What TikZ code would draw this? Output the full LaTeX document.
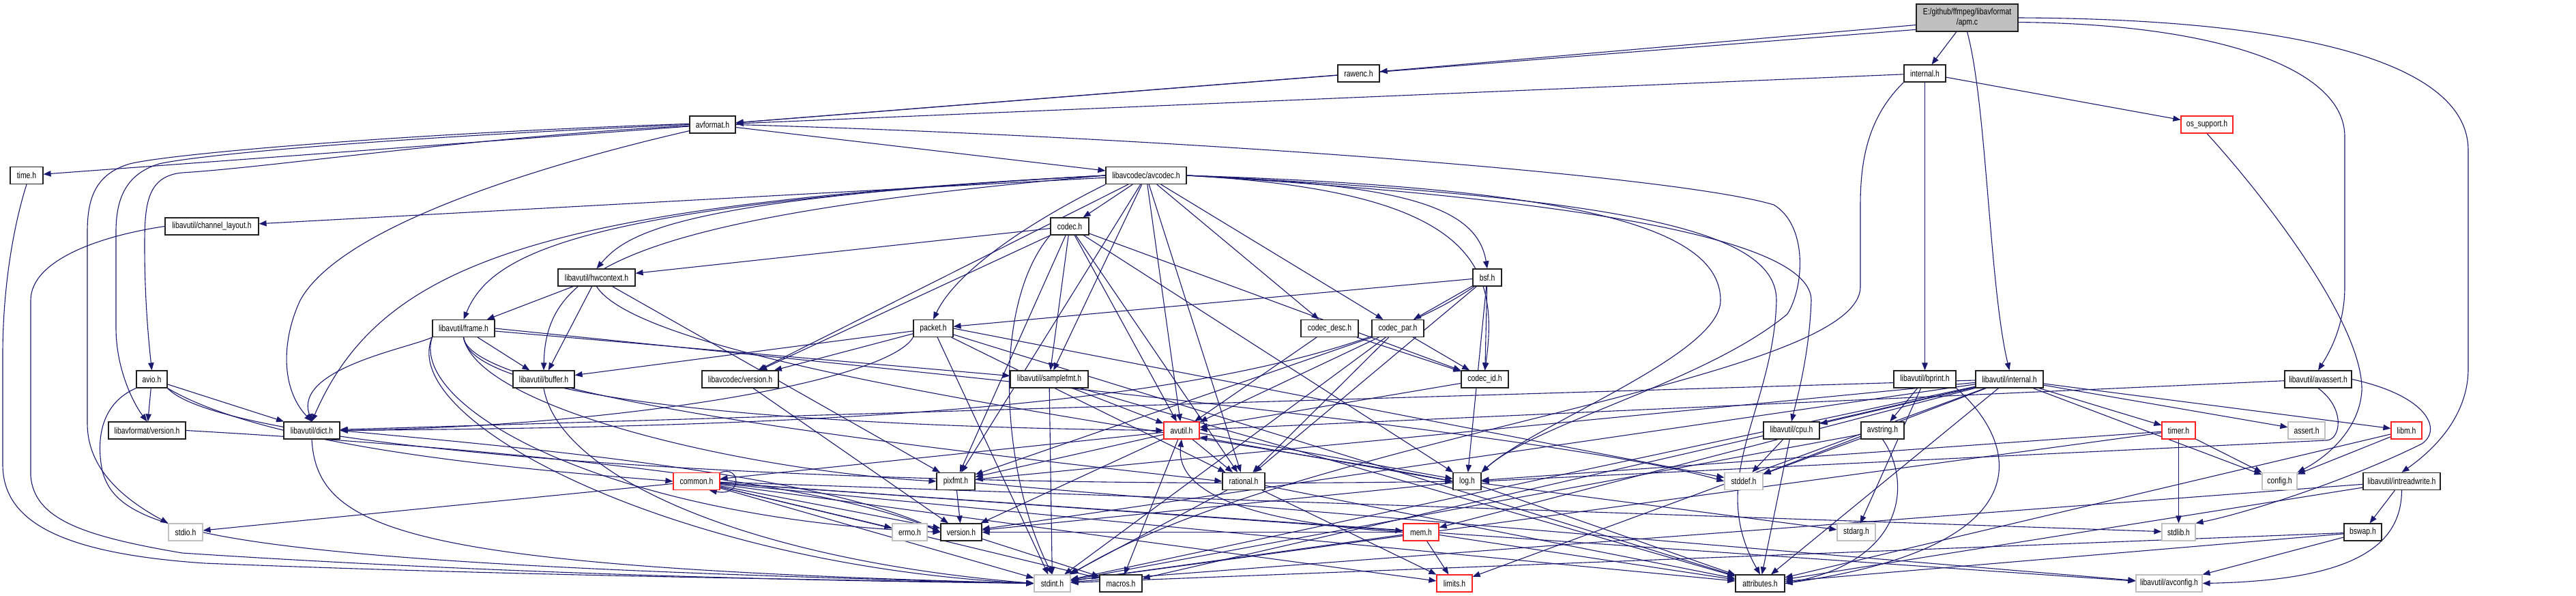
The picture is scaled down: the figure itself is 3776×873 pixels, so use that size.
\documentclass[tikz,border=0pt]{standalone}
\usepackage{fontspec}
\setmainfont{Liberation Sans}[FakeStretch=0.8]
\usetikzlibrary{arrows.meta}
\pgfdeclarelayer{bottom}
\pgfdeclarelayer{bg}
\pgfsetlayers{bottom,bg,main}
\definecolor{edgec}{HTML}{191970}
\definecolor{redc}{HTML}{FF2020}
\definecolor{grayc}{HTML}{BFBFBF}
\definecolor{rootc}{HTML}{BFBFBF}
\definecolor{borderc}{HTML}{202020}
\newcommand{\dxfont}{\fontsize{6.5pt}{7.5pt}\selectfont}
\tikzset{
 nb/.style={draw=borderc, fill=white, line width=0.6pt, minimum height=12.5pt, inner sep=0pt, font=\dxfont},
 rd/.style={nb, draw=redc},
 gr/.style={nb, draw=grayc},
 e/.style={draw=edgec, line width=0.55pt, -{Triangle[length=5.5pt,width=4.2pt]}},
}
\begin{document}
\begin{tikzpicture}[x=0.5pt,y=-0.5pt]
\useasboundingbox (0,0) rectangle (3776,873);
\begin{pgfonlayer}{bottom}
\fill[white] (0,0) rectangle (3776,873);
\end{pgfonlayer}
% nodes
\node[nb, fill=rootc, minimum width=74.5pt, minimum height=20pt, align=center] (apm) at (2883.5,26) {E:/github/ffmpeg/libavformat\\/apm.c};
\node[nb, minimum width=30.5pt] (rawenc) at (1991.5,107.5) {rawenc.h};
\node[nb, minimum width=30.5pt] (internal) at (2821.5,107.5) {internal.h};
\node[nb, minimum width=33.5pt] (avformat) at (1044.5,182.5) {avformat.h};
\node[rd, minimum width=38pt] (ossupport) at (3235,182.5) {os\_support.h};
\node[nb, minimum width=24pt] (timeh) at (39,257) {time.h};
\node[nb, minimum width=59pt] (avcodec) at (1680,257) {libavcodec/avcodec.h};
\node[nb, minimum width=68.5pt] (chlayout) at (310.5,331.5) {libavutil/channel\_layout.h};
\node[nb, minimum width=28pt] (codec) at (1568,331.5) {codec.h};
\node[nb, minimum width=56.5pt] (hwcontext) at (874.5,406.5) {libavutil/hwcontext.h};
\node[nb, minimum width=21pt] (bsf) at (2180,406.5) {bsf.h};
\node[nb, minimum width=45.5pt] (frame) at (679.5,481) {libavutil/frame.h};
\node[nb, minimum width=29pt] (packet) at (1368,481) {packet.h};
\node[nb, minimum width=42pt] (codecdesc) at (1949,481) {codec\_desc.h};
\node[nb, minimum width=38pt] (codecpar) at (2049,481) {codec\_par.h};
\node[nb, minimum width=22.5pt] (avio) at (222.5,555.5) {avio.h};
\node[nb, minimum width=45pt] (buffer) at (797,555.5) {libavutil/buffer.h};
\node[nb, minimum width=56pt] (avcversion) at (1085,555.5) {libavcodec/version.h};
\node[nb, minimum width=57pt] (samplefmt) at (1538,555.5) {libavutil/samplefmt.h};
\node[nb, minimum width=34.5pt] (codecid) at (2176.5,555.5) {codec\_id.h};
\node[nb, minimum width=45.5pt] (bprint) at (2821.5,555.5) {libavutil/bprint.h};
\node[nb, minimum width=49.5pt] (avuinternal) at (2945.5,555.5) {libavutil/internal.h};
\node[nb, minimum width=49pt] (avassert) at (3398,555.5) {libavutil/avassert.h};
\node[nb, minimum width=56.5pt] (lavfversion) at (215.5,630.5) {libavformat/version.h};
\node[nb, minimum width=41pt] (dict) at (457,630.5) {libavutil/dict.h};
\node[rd, minimum width=26pt] (avutil) at (1732,630.5) {avutil.h};
\node[nb, minimum width=41pt] (cpu) at (2626,630.5) {libavutil/cpu.h};
\node[nb, minimum width=31.5pt] (avstring) at (2759.5,630.5) {avstring.h};
\node[rd, minimum width=24.5pt] (timer) at (3193.5,630.5) {timer.h};
\node[gr, minimum width=27pt] (assert) at (3381,630.5) {assert.h};
\node[rd, minimum width=22.5pt] (libm) at (3527.5,630.5) {libm.h};
\node[rd, minimum width=34pt] (common) at (1021,705) {common.h};
\node[nb, minimum width=28pt] (pixfmt) at (1401,705) {pixfmt.h};
\node[nb, minimum width=31pt] (rational) at (1823,705) {rational.h};
\node[nb, minimum width=20.5pt] (logh) at (2150.5,705) {log.h};
\node[gr, minimum width=28pt] (stddef) at (2556,705) {stddef.h};
\node[gr, minimum width=25.5pt] (config) at (3341.5,705) {config.h};
\node[nb, minimum width=56.5pt] (intreadwrite) at (3520.5,705) {libavutil/intreadwrite.h};
\node[gr, minimum width=25pt] (stdio) at (272,779.5) {stdio.h};
\node[gr, minimum width=25.5pt] (errno) at (1333.5,779.5) {errno.h};
\node[nb, minimum width=30pt] (version) at (1409,779.5) {version.h};
\node[rd, minimum width=26pt] (mem) at (2083,779.5) {mem.h};
\node[gr, minimum width=28pt] (stdarg) at (2721,779.5) {stdarg.h};
\node[gr, minimum width=24.5pt] (stdlib) at (3193.5,779.5) {stdlib.h};
\node[nb, minimum width=27.5pt] (bswap) at (3463.5,779.5) {bswap.h};
\node[gr, minimum width=26.5pt] (stdint) at (1542.5,854.5) {stdint.h};
\node[nb, minimum width=31pt] (macros) at (1643,854.5) {macros.h};
\node[rd, minimum width=26pt] (limits) at (2132,854.5) {limits.h};
\node[nb, minimum width=36pt] (attributes) at (2580,854.5) {attributes.h};
\node[gr, minimum width=48.5pt] (avconfig) at (3179.5,854.5) {libavutil/avconfig.h};
% edges
\begin{pgfonlayer}{bg}
% apm.c
\draw[e] (apm.188) -- (rawenc);
\draw[e] (apm.193) -- (avformat);
\draw[e] (apm) -- (internal);
\draw[e] (apm.south) .. controls (2912,150) and (2916,420) .. (avuinternal.north);
\draw[e] (apm.-5) .. controls (3250,35) and (3437,100) .. (3437,200) -- (3437,420) .. controls (3437,480) and (3412,520) .. (avassert.north);
\draw[e] (apm.east) .. controls (3400,28) and (3618,100) .. (3618,220) -- (3618,540) .. controls (3618,600) and (3580,650) .. (intreadwrite.north);
% rawenc, internal
\draw[e] (rawenc) -- (avformat);
\draw[e] (internal) -- (avformat);
\draw[e] (internal) -- (bprint);
\draw[e] (internal) -- (ossupport);
\draw[e] (internal.south west) .. controls (2740,170) and (2727,230) .. (2727,300) -- (2727,420) .. controls (2727,560) and (1900,640) .. (stdint.north east);
\draw[e] (ossupport.south) .. controls (3330,300) and (3465,480) .. (3462,573) .. controls (3458,630) and (3410,670) .. (config.north east);
% avformat
\draw[e] (avformat) -- (timeh);
\draw[e] (avformat) -- (avcodec);
\draw[e] (avformat.183) .. controls (700,200) and (400,245) .. (267,253) .. controls (215,258) and (212,300) .. (212,360) .. controls (212,440) and (218,500) .. (avio.north);
\draw[e] (avformat.180) .. controls (600,200) and (300,225) .. (233,240) .. controls (185,255) and (170,290) .. (170,340) -- (170,480) .. controls (170,540) and (195,590) .. (lavfversion.north);
\draw[e] (avformat.178) .. controls (600,195) and (250,225) .. (190,240) .. controls (140,255) and (128,290) .. (128,340) -- (128,620) .. controls (128,680) and (170,725) .. (stdio.north west);
\draw[e] (avformat.195) .. controls (800,240) and (500,330) .. (440,440) .. controls (412,500) and (412,570) .. (dict.north);
\draw[e] (avformat.east) .. controls (1700,200) and (2450,255) .. (2600,300) .. controls (2650,330) and (2645,420) .. (2620,460) .. controls (2500,560) and (2250,620) .. (logh.north east);
% time.h, channel_layout.h
\draw[e] (timeh.south) .. controls (20,330) and (4,420) .. (4,520) -- (4,680) .. controls (4,760) and (80,810) .. (300,825) .. controls (800,845) and (1300,850) .. (stdint.west);
\draw[e] (chlayout.west) .. controls (150,345) and (45,380) .. (45,440) -- (45,697) .. controls (50,760) and (120,785) .. (267,810) .. controls (800,845) and (1300,852) .. (stdint.west);
% avcodec
\draw[e] (avcodec) -- (chlayout);
\draw[e] (avcodec.west) .. controls (1000,290) and (920,340) .. (hwcontext.north);
\draw[e] (avcodec.west) .. controls (850,300) and (720,370) .. (frame.north);
\draw[e] (avcodec.west) .. controls (900,320) and (800,400) .. (buffer.north);
\draw[e] (avcodec.west) .. controls (800,300) and (560,380) .. (dict.north);
\draw[e] (avcodec) -- (codec);
\draw[e] (avcodec.south west) .. controls (1500,330) and (1400,400) .. (packet.north);
\draw[e] (avcodec) -- (avcversion);
\draw[e] (avcodec) -- (samplefmt);
\draw[e] (avcodec) -- (avutil);
\draw[e] (avcodec) -- (pixfmt);
\draw[e] (avcodec) -- (rational);
\draw[e] (avcodec) -- (codecdesc);
\draw[e] (avcodec) -- (codecpar);
\draw[e] (avcodec.east) .. controls (2050,270) and (2165,300) .. (bsf.north);
\draw[e] (avcodec.east) .. controls (2150,280) and (2200,380) .. (codecid.north);
\draw[e] (avcodec.east) .. controls (2300,275) and (2522,330) .. (2522,440) .. controls (2522,520) and (2250,620) .. (logh.north east);
\draw[e] (avcodec.east) .. controls (2400,290) and (2604,340) .. (2604,440) .. controls (2600,600) and (2500,700) .. (attributes.north);
\draw[e] (avcodec.east) .. controls (2450,300) and (2655,370) .. (2655,440) .. controls (2652,520) and (2635,580) .. (cpu.north);
% codec
\draw[e] (codec.south west) .. controls (1450,450) and (1470,700) .. (stdint.north);
\draw[e] (codec) -- (avutil);
\draw[e] (codec) -- (hwcontext);
\draw[e] (codec) -- (logh);
\draw[e] (codec) -- (pixfmt);
\draw[e] (codec) -- (rational);
\draw[e] (codec) -- (samplefmt);
\draw[e] (codec) -- (codecid);
\draw[e] (codec) -- (avcversion);
% hwcontext
\draw[e] (hwcontext) -- (buffer);
\draw[e] (hwcontext) -- (frame);
\draw[e] (hwcontext.south) .. controls (950,540) and (1800,640) .. (logh.west);
\draw[e] (hwcontext) -- (pixfmt);
% bsf
\draw[e] (bsf) -- (packet);
\draw[e] (bsf) .. controls (1900,600) and (1200,625) .. (dict.east);
\draw[e] (bsf) -- (logh);
\draw[e] (bsf) -- (rational);
\draw[e] (bsf) -- (codecid);
\draw[e] (bsf) -- (codecpar);
% frame
\draw[e] (frame) -- (buffer);
\draw[e] (frame.south west) .. controls (600,510) and (430,540) .. (dict.north);
\draw[e] (frame) -- (samplefmt);
\draw[e] (frame.south) .. controls (690,590) and (1200,625) .. (avutil.west);
\draw[e] (frame.south) .. controls (690,580) and (1300,650) .. (rational.west);
\draw[e] (frame.south) .. controls (700,600) and (1100,690) .. (pixfmt.west);
\draw[e] (frame.south west) .. controls (600,600) and (900,760) .. (version.west);
\draw[e] (frame.south west) .. controls (580,620) and (1000,830) .. (stdint.west);
\draw[e] (frame.east) .. controls (1500,560) and (2300,640) .. (stddef.west);
% packet
\draw[e] (packet) -- (buffer);
\draw[e] (packet) -- (avcversion);
\draw[e] (packet.south west) .. controls (1300,560) and (900,625) .. (dict.east);
\draw[e] (packet) -- (rational);
\draw[e] (packet) -- (stdint);
\draw[e] (packet) -- (attributes);
\draw[e] (packet.east) -- (stddef);
% codec_desc, codec_par
\draw[e] (codecdesc) -- (avutil);
\draw[e] (codecdesc) -- (codecid);
\draw[e] (codecpar) -- (stdint);
\draw[e] (codecpar) -- (avutil);
\draw[e] (codecpar) -- (rational);
\draw[e] (codecpar) -- (pixfmt);
\draw[e] (codecpar) -- (codecid);
% avio
\draw[e] (avio) -- (lavfversion);
\draw[e] (avio) -- (dict);
\draw[e] (avio.south west) .. controls (150,590) and (140,640) .. (150,690) .. controls (175,780) and (300,825) .. (stdint.west);
\draw[e] (avio.south east) .. controls (400,660) and (800,690) .. (common.west);
\draw[e] (avio.south east) .. controls (330,660) and (1200,720) .. (logh.west);
% buffer, versions, samplefmt, codec_id
\draw[e] (buffer.south) .. controls (820,700) and (1100,820) .. (stdint.west);
\draw[e] (avcversion) -- (version);
\draw[e] (samplefmt) -- (stdint);
\draw[e] (samplefmt) -- (avutil);
\draw[e] (samplefmt) -- (attributes);
\draw[e] (codecid) -- (avutil);
% bprint
\draw[e] (bprint) -- (avstring);
\draw[e] (bprint) -- (stdarg);
\draw[e] (bprint.south east) .. controls (2960,650) and (3000,800) .. (attributes.east);
% libavutil/internal.h
\draw[e] (avuinternal) -- (cpu);
\draw[e] (avuinternal) -- (stddef);
\draw[e] (avuinternal) -- (dict);
\draw[e] (avuinternal) -- (timer);
\draw[e] (avuinternal) -- (assert);
\draw[e] (avuinternal) -- (libm);
\draw[e] (avuinternal) -- (config);
\draw[e] (avuinternal) -- (attributes);
\draw[e] (avuinternal) -- (stdint);
\draw[e] (avuinternal) -- (limits);
\draw[e] (avuinternal) -- (macros);
\draw[e] (avuinternal) -- (mem);
\draw[e] (avuinternal) -- (pixfmt);
\draw[e] (avuinternal) -- (version);
% avassert
\draw[e] (avassert.east) .. controls (3560,580) and (3580,630) .. (3550,650) .. controls (3450,700) and (3300,750) .. (stdlib.north east);
\draw[e] (avassert) -- (avutil);
\draw[e] (avassert.south) .. controls (3440,600) and (3430,645) .. (3410,645) -- (logh.east);
% lavf version, dict
\draw[e] (lavfversion.east) .. controls (700,655) and (1200,700) .. (version.west);
\draw[e] (dict.south) .. controls (465,780) and (600,830) .. (stdint.west);
\draw[e] (dict.east) .. controls (700,650) and (1200,690) .. (version.west);
% avutil
\draw[e] (avutil) -- (common);
\draw[e] (avutil) -- (rational);
\draw[e] (avutil) -- (version);
\draw[e] (avutil) -- (macros);
\draw[e] (avutil.-8) -- (logh.170);
\draw[e] (avutil) -- (pixfmt);
% cpu, avstring, timer, libm
\draw[e] (cpu) -- (stddef);
\draw[e] (cpu) -- (attributes);
\draw[e] (avstring) -- (stddef);
\draw[e] (avstring) -- (stdint);
\draw[e] (avstring.south) .. controls (2800,700) and (2800,820) .. (attributes.east);
\draw[e] (timer) -- (config);
\draw[e] (timer) -- (stdlib);
\draw[e] (timer) -- (stdint);
\draw[e] (timer) -- (logh);
\draw[e] (libm) -- (config);
\draw[e] (libm) -- (attributes);
% common
\draw[e] (common) -- (errno);
\draw[e] (common) -- (stdio);
\draw[e] (common) -- (limits);
\draw[e] (common) -- (stdint);
\draw[e] (common) -- (stdlib);
\draw[e] (common) -- (attributes);
\draw[e] (common) -- (macros);
\draw[e] (common) -- (version);
\draw[e] (common) -- (avconfig);
\draw[e] (common) -- (mem);
\draw[e] (common.20) .. controls (1085,680) and (1090,728) .. (common.-35);
% pixfmt, rational, log, mem, version
\draw[e] (pixfmt) -- (avconfig);
\draw[e] (pixfmt) -- (version);
\draw[e] (rational) -- (stdint);
\draw[e] (rational) -- (limits);
\draw[e] (rational) -- (attributes);
\draw[e] (logh) -- (stdarg);
\draw[e] (logh.180) -- (avutil.-20);
\draw[e] (logh) -- (attributes);
\draw[e] (logh) -- (version);
\draw[e] (mem) -- (limits);
\draw[e] (mem) -- (stdint);
\draw[e] (mem) -- (attributes);
\draw[e] (mem.west) .. controls (1900,770) and (1720,740) .. (avutil.south);
\draw[e] (mem) -- (version);
\draw[e] (version) -- (macros);
% intreadwrite, bswap
\draw[e] (intreadwrite) -- (bswap);
\draw[e] (intreadwrite.south) .. controls (3520,800) and (3450,850) .. (avconfig.east);
\draw[e] (intreadwrite) -- (stdint);
\draw[e] (intreadwrite) -- (attributes);
\draw[e] (bswap) -- (avconfig);
\draw[e] (bswap) -- (stdint);
\draw[e] (bswap) -- (attributes);
\end{pgfonlayer}
\end{tikzpicture}
\end{document}
